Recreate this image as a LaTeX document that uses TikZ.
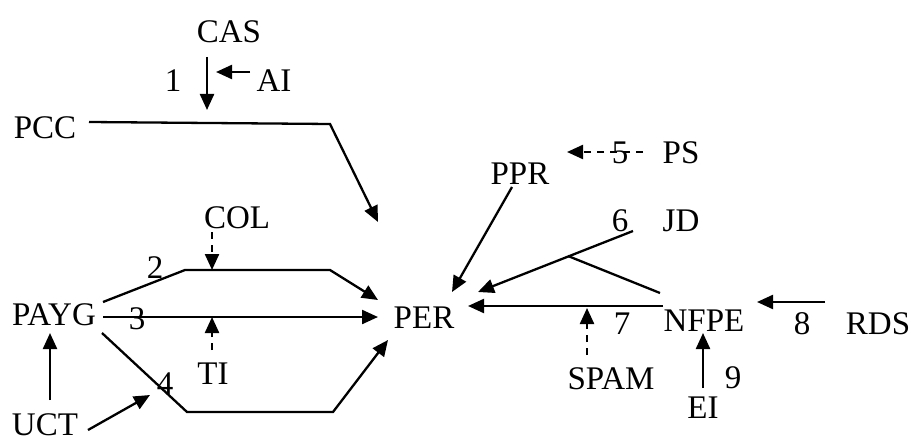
\documentclass[tikz,border=0pt]{standalone}
\usepackage{fontspec}
\setmainfont{Liberation Serif}
\usetikzlibrary{arrows.meta}
\begin{document}
\begin{tikzpicture}[x=1pt,y=-1pt,
 lbl/.style={inner sep=0pt,font=\fontsize{33}{33}\selectfont,text height=22pt,text depth=0pt},
 conn/.style={line width=2.3pt,-{Triangle[length=16pt,width=14pt]}},
 plain/.style={line width=2.3pt},
 dsh/.style={conn,dash pattern=on 7pt off 6pt}]
\useasboundingbox (0,0) rectangle (912,441);
% text nodes
\node[lbl] (CAS) at (229,32) {CAS};
\node[lbl] (n1) at (173,81) {1};
\node[lbl] (AI) at (274,81) {AI};
\node[lbl] (PCC) at (45,128) {PCC};
\node[lbl] (PPR) at (520,173) {PPR};
\node[lbl] (n5) at (620,152) {5};
\node[lbl] (PS) at (681,152) {PS};
\node[lbl] (n6) at (620,220) {6};
\node[lbl] (JD) at (681,220) {JD};
\node[lbl] (COL) at (237,217) {COL};
\node[lbl] (n2) at (155,267) {2};
\node[lbl] (PAYG) at (54,314) {PAYG};
\node[lbl] (n3) at (137,318) {3};
\node[lbl] (PER) at (424,317) {PER};
\node[lbl] (TI) at (213,373) {TI};
\node[lbl] (n4) at (165,383) {4};
\node[lbl] (UCT) at (45,424) {UCT};
\node[lbl] (SPAM) at (611,378) {SPAM};
\node[lbl] (n7) at (622,323) {7};
\node[lbl] (NFPE) at (704,320) {NFPE};
\node[lbl] (n8) at (802,323) {8};
\node[lbl] (RDS) at (878,323) {RDS};
\node[lbl] (n9) at (733,377) {9};
\node[lbl] (EI) at (703,407) {EI};
% coordinates
\coordinate (casA) at (207,57);
\coordinate (casB) at (207,110);
\coordinate (aiA) at (250,72);
\coordinate (aiB) at (216,72);
\coordinate (pccA) at (89,122);
\coordinate (pccK) at (330,124);
\coordinate (pccB) at (378,222);
\coordinate (psA) at (643,152);
\coordinate (psB) at (567,152);
\coordinate (pprA) at (512,187);
\coordinate (pprB) at (452,292);
\coordinate (jdA) at (633,231);
\coordinate (jdB) at (478,292);
\coordinate (jdK) at (568,256);
\coordinate (nfT) at (660,293);
\coordinate (nfA) at (663,306);
\coordinate (nfB) at (468,306);
\coordinate (spA) at (587,355);
\coordinate (spB) at (587,308);
\coordinate (rdA) at (825,302);
\coordinate (rdB) at (757,302);
\coordinate (eiA) at (703,388);
\coordinate (eiB) at (703,333);
\coordinate (colA) at (212,232);
\coordinate (colB) at (212,270);
\coordinate (p2A) at (103,302);
\coordinate (p2K1) at (185,270);
\coordinate (p2K2) at (330,270);
\coordinate (p2B) at (378,300);
\coordinate (p3A) at (103,317);
\coordinate (p3B) at (378,317);
\coordinate (tiA) at (212,350);
\coordinate (tiB) at (212,317);
\coordinate (p4A) at (102,333);
\coordinate (p4K1) at (187,412);
\coordinate (p4K2) at (333,412);
\coordinate (p4B) at (388,340);
\coordinate (ucA) at (50,400);
\coordinate (ucB) at (50,333);
\coordinate (uc2A) at (88,430);
\coordinate (uc2B) at (150,395);
% connectors
\draw[conn] (casA) -- (casB);
\draw[conn] (aiA) -- (aiB);
\draw[conn] (pccA) -- (pccK) -- (pccB);
\draw[dsh] (psA) -- (psB);
\draw[conn] (pprA) -- (pprB);
\draw[conn] (jdA) -- (jdB);
\draw[plain] (jdK) -- (nfT);
\draw[conn] (nfA) -- (nfB);
\draw[dsh] (spA) -- (spB);
\draw[conn] (rdA) -- (rdB);
\draw[conn] (eiA) -- (eiB);
\draw[dsh] (colA) -- (colB);
\draw[conn] (p2A) -- (p2K1) -- (p2K2) -- (p2B);
\draw[conn] (p3A) -- (p3B);
\draw[dsh] (tiA) -- (tiB);
\draw[conn] (p4A) -- (p4K1) -- (p4K2) -- (p4B);
\draw[conn] (ucA) -- (ucB);
\draw[conn] (uc2A) -- (uc2B);
\end{tikzpicture}
\end{document}
